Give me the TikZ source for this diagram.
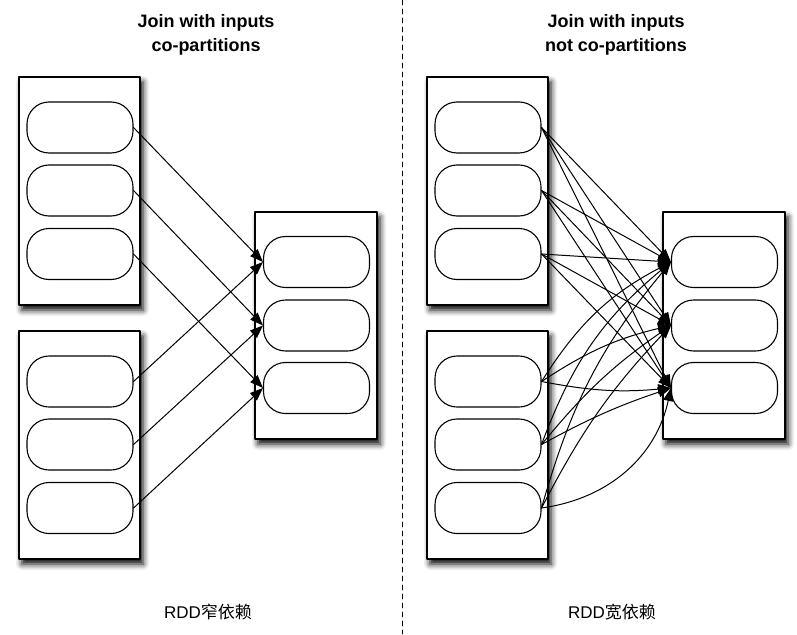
\documentclass[tikz,border=0pt]{standalone}
\usepackage{fontspec}
\setmainfont{Liberation Sans}
\newfontfamily\cjk{Noto Sans CJK SC}
\usetikzlibrary{arrows.meta,shadows.blur}

\tikzset{
  rddbox/.style={draw,line width=1.2pt,fill=white,minimum width=121pt,minimum height=228pt,
    blur shadow={shadow xshift=3pt,shadow yshift=-5pt,shadow blur radius=6pt,shadow opacity=100}},
  part/.style={draw,line width=1.1pt,fill=white,rounded corners=22pt,
    minimum width=106pt,minimum height=51pt,inner sep=0pt},
  dep/.style={line width=1pt,-{Triangle[length=13pt,width=10pt]}},
  heading/.style={font=\fontsize{18}{24}\selectfont\bfseries,align=center},
  caption/.style={font=\fontsize{17}{20}\selectfont},
}

\begin{document}
\begin{tikzpicture}[x=1pt,y=-1pt,line cap=round,line join=round]
  \useasboundingbox (0,0) rectangle (797,634);

  % both panels: two parent RDDs and one child RDD
  \foreach \s/\p in {0/l,408/r} {
    \node[rddbox] (\p-a1) at (79.5+\s,191) {};
    \node[rddbox] (\p-a2) at (79.5+\s,445) {};
    \node[rddbox,minimum width=122pt,minimum height=227pt] (\p-b) at (316+\s,325.5) {};
    \foreach \i/\y in {1/127.5,2/190.5,3/254}
      \node[part] (\p-a1-\i) at (80+\s,\y) {};
    \foreach \i/\y in {1/381.5,2/444.5,3/508}
      \node[part] (\p-a2-\i) at (80+\s,\y) {};
    \foreach \i/\y in {1/262,2/325.5,3/388}
      \node[part] (\p-b-\i) at (316.5+\s,\y) {};
  }

  % separator
  \coordinate (top) at (402,0);
  \coordinate (bot) at (402,634);
  \draw[line width=0.9pt,dash pattern=on 5pt off 4pt] (top) -- (bot);

  \node[heading] (lhead) at (206,35) {Join with inputs\\co-partitions};
  \node[heading] (rhead) at (616,35) {Join with inputs\\not co-partitions};
  \node[caption] (lcap) at (208,612) {RDD{\cjk 窄依赖}};
  \node[caption] (rcap) at (612,612) {RDD{\cjk 宽依赖}};

  % narrow dependencies
  \foreach \i in {1,2,3} {
    \draw[dep] (l-a1-\i.east) -- (l-b-\i.west);
    \draw[dep] (l-a2-\i.east) -- (l-b-\i.west);
  }

  % wide dependencies
  \foreach \i in {1,2,3}
    \foreach \j in {1,2,3}
      \draw[dep] (r-a1-\i.east) -- (r-b-\j.west);
  \draw[dep] (r-a2-1.east) to[bend left=15] (r-b-1.west);
  \draw[dep] (r-a2-1.east) to[bend left=10] (r-b-2.west);
  \draw[dep] (r-a2-1.east) to[bend right=8] (r-b-3.west);
  \draw[dep] (r-a2-2.east) to[bend left=15] (r-b-1.west);
  \draw[dep] (r-a2-2.east) to[bend left=8] (r-b-2.west);
  \draw[dep] (r-a2-2.east) to[bend left=5] (r-b-3.west);
  \draw[dep] (r-a2-3.east) to[bend left=12] (r-b-1.west);
  \draw[dep] (r-a2-3.east) to[bend left=8] (r-b-2.west);
  \draw[dep] (r-a2-3.east) to[bend right=35] (r-b-3.west);
\end{tikzpicture}
\end{document}
